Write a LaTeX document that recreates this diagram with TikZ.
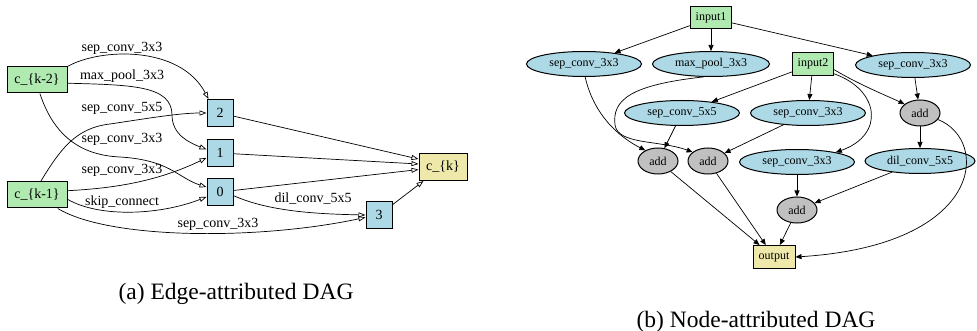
\documentclass[tikz,border=0pt]{standalone}
\usepackage{fontspec}
\setmainfont{Liberation Serif}
\usetikzlibrary{shapes.geometric,arrows.meta}
\definecolor{pgreen}{HTML}{B0EAB0}
\definecolor{lblue}{HTML}{ADD8E6}
\definecolor{khaki}{HTML}{EEE8AA}
\definecolor{addgray}{HTML}{C0C0C0}
\begin{document}
\begin{tikzpicture}[x=1pt,y=-1pt,
  abox/.style={draw,line width=1pt,inner sep=0pt,font=\fontsize{14}{16}\selectfont},
  inbox/.style={abox,fill=pgreen,minimum width=60pt,minimum height=26pt},
  numbox/.style={abox,fill=lblue,minimum width=26pt,minimum height=27pt},
  outbox/.style={abox,fill=khaki,minimum width=48pt,minimum height=27pt},
  ea/.style={draw,line width=0.7pt,-{Triangle[open,length=7pt,width=5pt]}},
  elab/.style={font=\fontsize{14}{16}\selectfont,inner sep=0pt},
  bnode/.style={draw,line width=1pt,inner sep=0pt,font=\fontsize{12}{14}\selectfont},
  brect/.style={bnode,rectangle},
  bell/.style={bnode,ellipse,fill=lblue,minimum width=115pt,minimum height=25pt},
  badd/.style={bnode,ellipse,fill=addgray,minimum width=40pt,minimum height=26pt},
  eb/.style={draw,line width=0.7pt,-{Triangle[length=6pt,width=5pt]}},
  capt/.style={font=\fontsize{23.5}{26}\selectfont,inner sep=0pt,anchor=base}
]
\useasboundingbox (0,0) rectangle (977,331);

% ---------- (a) ----------
\node[inbox] (k2) at (37,80) {c\_\{k-2\}};
\node[inbox] (k1) at (37,195) {c\_\{k-1\}};
\node[numbox] (n2) at (220,113) {2};
\node[numbox] (n1) at (220,153) {1};
\node[numbox] (n0) at (220,192) {0};
\node[numbox] (n3) at (379,215) {3};
\node[outbox] (ck) at (443,167) {c\_\{k\}};

\draw[ea] (k2.north east) .. controls (100,48) and (180,45) .. ([xshift=2pt]n2.north west);
\draw[ea] (k2.-6) .. controls (130,85) and (172,85) .. (172,115) .. controls (172,135) and (190,143) .. (n1.165);
\draw[ea] (k1.75) .. controls (60,150) and (75,128) .. (110,124) .. controls (150,118) and (180,113) .. (n2.west);
\draw[ea] (k2.-78) .. controls (52,130) and (75,155) .. (120,157) .. controls (170,160) and (178,178) .. (n0.160);
\draw[ea] (k1.8) .. controls (120,188) and (160,180) .. (n1.200);
\draw[ea] (k1.-8) .. controls (100,218) and (160,215) .. (n0.200);
\draw[ea] (k1.-33) .. controls (110,240) and (260,240) .. (n3.190);
\draw[ea] (n0.-15) .. controls (270,212) and (320,214) .. (n3.west);
\draw[ea] (n2) -- (ck.162);
\draw[ea] (n1) -- (ck.173);
\draw[ea] (n0) -- (ck.186);
\draw[ea] (n3) -- ([xshift=5pt]ck.south west);

\node[elab] (l1) at (122,48) {sep\_conv\_3x3};
\node[elab] (l2) at (122,76) {max\_pool\_3x3};
\node[elab] (l3) at (122,108) {sep\_conv\_5x5};
\node[elab] (l4) at (122,139) {sep\_conv\_3x3};
\node[elab] (l5) at (122,170) {sep\_conv\_3x3};
\node[elab] (l6) at (122,202) {skip\_connect};
\node[elab] (l7) at (218,224) {sep\_conv\_3x3};
\node[elab] (l8) at (313,199) {dil\_conv\_5x5};

\node[capt] (capa) at (236,299) {(a) Edge-attributed DAG};

% ---------- (b) ----------
\node[brect,fill=pgreen,minimum width=41pt,minimum height=22pt] (in1) at (711,18) {input1};
\node[bell] (sepL) at (584,64) {sep\_conv\_3x3};
\node[bell,minimum width=117pt] (maxp) at (711,64) {max\_pool\_3x3};
\node[brect,fill=pgreen,minimum width=41pt,minimum height=23pt] (in2) at (813,64) {input2};
\node[bell] (sepR) at (913,65) {sep\_conv\_3x3};
\node[bell] (sep5) at (682,113) {sep\_conv\_5x5};
\node[bell] (sepM) at (808,113) {sep\_conv\_3x3};
\node[badd] (addR) at (920,113) {add};
\node[badd] (add1) at (658,161) {add};
\node[badd] (add2) at (708,161) {add};
\node[bell] (sepLow) at (797,162) {sep\_conv\_3x3};
\node[bell,minimum width=110pt] (dil) at (920,161) {dil\_conv\_5x5};
\node[badd] (add3) at (797,210) {add};
\node[brect,fill=khaki,minimum width=42pt,minimum height=23pt] (out) at (774,257) {output};

\draw[eb] (in1) -- (sepL);
\draw[eb] (in1) -- (maxp);
\draw[eb] (in1) -- (sepR);
\draw[eb] (in2) -- (sep5);
\draw[eb] (in2) -- (sepM);
\draw[eb] (in2.-15) .. controls (860,85) and (885,95) .. (addR.150);
\draw[eb] (in2.-25) .. controls (880,90) and (885,135) .. (sepLow.14);
\draw[eb] (sepL.-85) .. controls (595,120) and (625,140) .. (add1.140);
\draw[eb] (maxp.-120) .. controls (630,85) and (612,100) .. (615,125) .. controls (618,145) and (660,140) .. (add2.150);
\draw[eb] (sep5) -- (add1);
\draw[eb] (sepM) -- (add2);
\draw[eb] (sepR) -- (addR);
\draw[eb] (addR) -- (dil);
\draw[eb] (addR.-20) .. controls (990,140) and (985,245) .. (out.east);
\draw[eb] (add1) -- (out);
\draw[eb] (add2) -- (out);
\draw[eb] (sepLow) -- (add3);
\draw[eb] (dil) -- (add3);
\draw[eb] (add3) -- (out);

\node[capt] (capb) at (756,327) {(b) Node-attributed DAG};
\end{tikzpicture}
\end{document}
